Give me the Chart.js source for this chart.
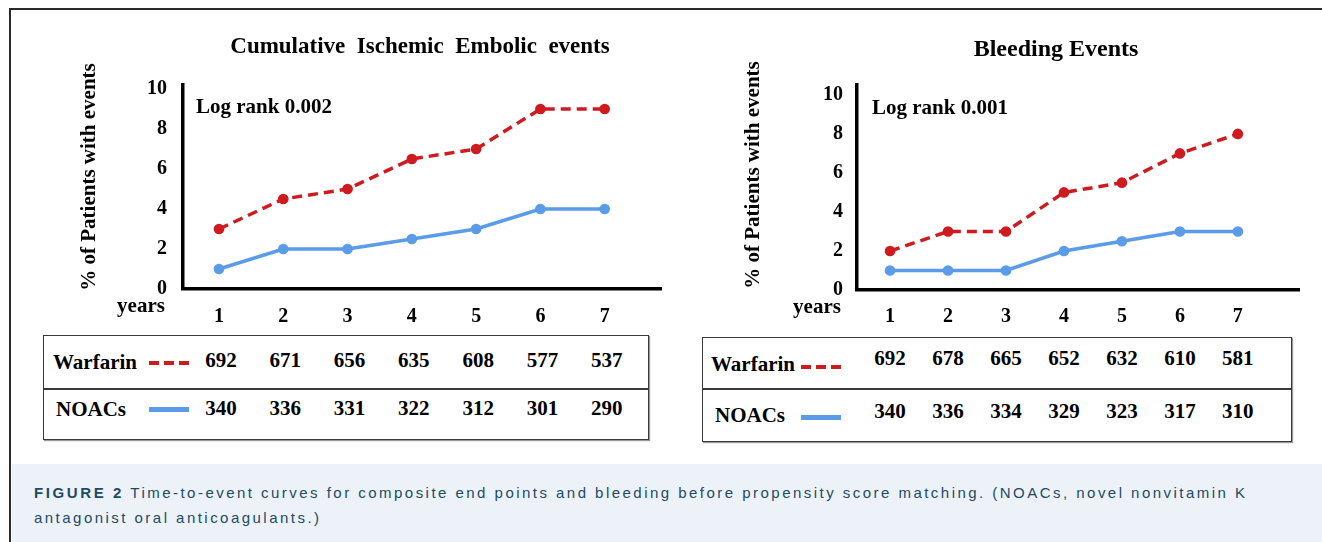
<!DOCTYPE html>
<html>
<head>
<meta charset="utf-8">
<script src="https://cdn.jsdelivr.net/npm/chart.js@4.4.1/dist/chart.umd.min.js"></script>
<style>
  html, body { margin:0; padding:0; background:#fff; }
  body { width:1322px; height:542px; position:relative; overflow:hidden; }
  canvas { position:absolute; top:0; }
  .frameTop { position:absolute; left:9px; top:8px; width:1313px; height:2px; background:#2a2a2a; }
  .frameLeft { position:absolute; left:9px; top:8px; width:2px; height:534px; background:#2a2a2a; }
  .tbl { position:absolute; border:1.5px solid #3a3a3a; box-shadow:1px 1px 1px #999; box-sizing:border-box; }
  .tbl .div { position:absolute; left:0; right:0; height:1.5px; background:#3a3a3a; }
  .cell { position:absolute; font-family:"Liberation Serif","Times New Roman",serif; font-weight:bold; font-size:21px; color:#000; white-space:nowrap; line-height:24px; }
  .num { width:60px; text-align:center; margin-left:-30px; }
  .dash { position:absolute; width:40px; height:4px; background:repeating-linear-gradient(to right,#cf1b1f 0 10px,transparent 10px 15px); }
  .solid { position:absolute; width:40px; height:5px; background:#5b9be8; }
  .caption { position:absolute; left:12px; top:464px; width:1310px; height:78px; background:#edf2f9; }
  .caption p { margin:0; position:absolute; left:22px; top:16px; font-family:"Liberation Sans",Arial,sans-serif; font-size:15px; letter-spacing:2.47px; line-height:25px; color:#1b4b66; white-space:nowrap; }
  .caption b { font-weight:bold; letter-spacing:2.6px; }
</style>
</head>
<body>
<div class="frameTop"></div>
<div class="frameLeft"></div>
<canvas id="c1" width="669" height="330" style="left:0px"></canvas>
<canvas id="c2" width="627" height="330" style="left:680px"></canvas>
<div id="tables"></div>
<div class="caption"><p><b>FIGURE 2</b> Time-to-event curves for composite end points and bleeding before propensity score matching. (NOACs, novel nonvitamin K<br>antagonist oral anticoagulants.)</p></div>
<script>
// ---- data ----
const years = [1, 2, 3, 4, 5, 6, 7];
const yTicks = [0, 2, 4, 6, 8, 10];
const ischemicWarfarin = [3, 4.5, 5, 6.5, 7, 9, 9];
const ischemicNoac = [1, 2, 2, 2.5, 3, 4, 4];
const bleedingWarfarin = [2, 3, 3, 5, 5.5, 7, 8];
const bleedingNoac = [1, 1, 1, 2, 2.5, 3, 3];
const ischemicAtRiskWarfarin = [692, 671, 656, 635, 608, 577, 537];
const ischemicAtRiskNoac = [340, 336, 331, 322, 312, 301, 290];
const bleedingAtRiskWarfarin = [692, 678, 665, 652, 632, 610, 581];
const bleedingAtRiskNoac = [340, 336, 334, 329, 323, 317, 310];
const seriesNames = ['Warfarin', 'NOACs'];
const yAxisTitle = '% of Patients with events';
const xAxisLabel = 'years';
const ischemicTitle = 'Cumulative  Ischemic  Embolic  events';
const bleedingTitle = 'Bleeding Events';
const ischemicLogRank = 'Log rank 0.002';
const bleedingLogRank = 'Log rank 0.001';

// ---- styles ----
const RED = '#cf1b1f';
const BLUE = '#5b9be8';
const SERIF = '"Liberation Serif","Times New Roman",serif';

const textPlugin = {
  id: 'extraText',
  afterDraw(chart, args, opts) {
    const ctx = chart.ctx;
    ctx.save();
    ctx.fillStyle = '#000';
    ctx.font = 'bold ' + opts.title.size + 'px ' + SERIF;
    ctx.textAlign = 'center';
    ctx.textBaseline = 'middle';
    ctx.fillText(opts.title.text, opts.title.x, opts.title.y);
    ctx.font = 'bold 21px ' + SERIF;
    ctx.save();
    ctx.translate(opts.yTitle.x, opts.yTitle.y);
    ctx.rotate(-Math.PI / 2);
    ctx.fillText(yAxisTitle, 0, 0);
    ctx.restore();
    ctx.fillText(xAxisLabel, opts.years.x, opts.years.y);
    ctx.textAlign = 'left';
    ctx.fillText(opts.logRank.text, opts.logRank.x, opts.logRank.y);
    ctx.restore();
  }
};

function makeChart(id, cfg) {
  const pts = arr => years.map((x, i) => ({ x: x, y: arr[i] }));
  return new Chart(document.getElementById(id), {
    type: 'line',
    data: {
      datasets: [
        { label: seriesNames[0], data: pts(cfg.warfarin), borderColor: RED, backgroundColor: RED,
          borderWidth: 3.5, borderDash: [10, 6], pointRadius: 3.6, pointHoverRadius: 3.6, tension: 0 },
        { label: seriesNames[1], data: pts(cfg.noac), borderColor: BLUE, backgroundColor: BLUE,
          borderWidth: 3.5, pointRadius: 3.6, pointHoverRadius: 3.6, tension: 0 }
      ]
    },
    options: {
      responsive: false, animation: false, events: [],
      layout: { padding: { left: 0, right: cfg.padRight, top: cfg.padTop, bottom: 0 } },
      plugins: {
        legend: { display: false },
        tooltip: { enabled: false },
        title: { display: false },
        extraText: cfg.text
      },
      scales: {
        x: {
          type: 'linear', min: cfg.xMin, max: cfg.xMax,
          afterBuildTicks: s => { s.ticks = years.map(v => ({ value: v })); },
          afterFit: s => { s.height = cfg.xAxisHeight; },
          grid: { display: false, drawTicks: false },
          border: { display: true, color: '#000', width: 3.5 },
          ticks: { color: '#000', font: { family: SERIF, size: 20, weight: 'bold' }, padding: cfg.xPad, autoSkip: false, maxRotation: 0 }
        },
        y: {
          min: 0, max: cfg.yMax,
          afterBuildTicks: s => { s.ticks = yTicks.map(v => ({ value: v })); },
          afterFit: s => { s.width = cfg.yAxisWidth; },
          grid: { display: false, drawTicks: false },
          border: { display: true, color: '#000', width: 3.5 },
          ticks: { color: '#000', font: { family: SERIF, size: 20, weight: 'bold' }, padding: cfg.yPad }
        }
      }
    },
    plugins: [textPlugin]
  });
}

const chart1 = makeChart('c1', {
  warfarin: ischemicWarfarin, noac: ischemicNoac,
  padRight: 2, padTop: 85, xMin: 0.44, xMax: 7.89, yMax: 10.2,
  xAxisHeight: 41, yAxisWidth: 183, xPad: 16, yPad: 16,
  text: { title: { text: ischemicTitle, size: 23, x: 420, y: 47 },
          yTitle: { x: 90, y: 177 }, years: { x: 141, y: 307 }, logRank: { text: ischemicLogRank, x: 196, y: 108 } }
});
const chart2 = makeChart('c2', {
  warfarin: bleedingWarfarin, noac: bleedingNoac,
  padRight: 3, padTop: 85, xMin: 0.43, xMax: 8.07, yMax: 10.51,
  xAxisHeight: 40, yAxisWidth: 177, xPad: 15, yPad: 14,
  text: { title: { text: bleedingTitle, size: 24, x: 376, y: 50 },
          yTitle: { x: 74, y: 175 }, years: { x: 137, y: 308 }, logRank: { text: bleedingLogRank, x: 192, y: 109 } }
});

// ---- at-risk tables ----
function buildTable(chart, offsetX, box, rows) {
  const host = document.getElementById('tables');
  const t = document.createElement('div');
  t.className = 'tbl';
  t.style.left = box.left + 'px'; t.style.top = box.top + 'px';
  t.style.width = (box.right - box.left) + 'px'; t.style.height = (box.bottom - box.top) + 'px';
  const d = document.createElement('div');
  d.className = 'div'; d.style.top = (box.divider - box.top - 1) + 'px';
  t.appendChild(d);
  host.appendChild(t);
  rows.forEach(r => {
    const lab = document.createElement('div');
    lab.className = 'cell'; lab.textContent = r.name;
    lab.style.left = r.labelX + 'px'; lab.style.top = (r.labelY - 12) + 'px';
    host.appendChild(lab);
    const key = document.createElement('div');
    key.className = r.keyClass;
    key.style.left = r.keyX + 'px'; key.style.top = (r.keyY - 2) + 'px';
    host.appendChild(key);
    r.values.forEach((v, i) => {
      const c = document.createElement('div');
      c.className = 'cell num'; c.textContent = v;
      c.style.left = (offsetX + chart.scales.x.getPixelForValue(years[i]) + r.shift) + 'px';
      c.style.top = (r.numY - 12) + 'px';
      host.appendChild(c);
    });
  });
}

buildTable(chart1, 0, { left: 43, top: 335, right: 649, bottom: 440, divider: 388 }, [
  { name: seriesNames[0], values: ischemicAtRiskWarfarin, labelX: 53, labelY: 362, keyClass: 'dash', keyX: 149, keyY: 363, numY: 360, shift: 2 },
  { name: seriesNames[1], values: ischemicAtRiskNoac, labelX: 56, labelY: 409, keyClass: 'solid', keyX: 149, keyY: 409, numY: 408, shift: 2 }
]);
buildTable(chart2, 680, { left: 702, top: 337, right: 1292, bottom: 442, divider: 388 }, [
  { name: seriesNames[0], values: bleedingAtRiskWarfarin, labelX: 711, labelY: 364, keyClass: 'dash', keyX: 801, keyY: 367, numY: 358, shift: 0 },
  { name: seriesNames[1], values: bleedingAtRiskNoac, labelX: 715, labelY: 415, keyClass: 'solid', keyX: 801, keyY: 417, numY: 411, shift: 0 }
]);
</script>
</body>
</html>
